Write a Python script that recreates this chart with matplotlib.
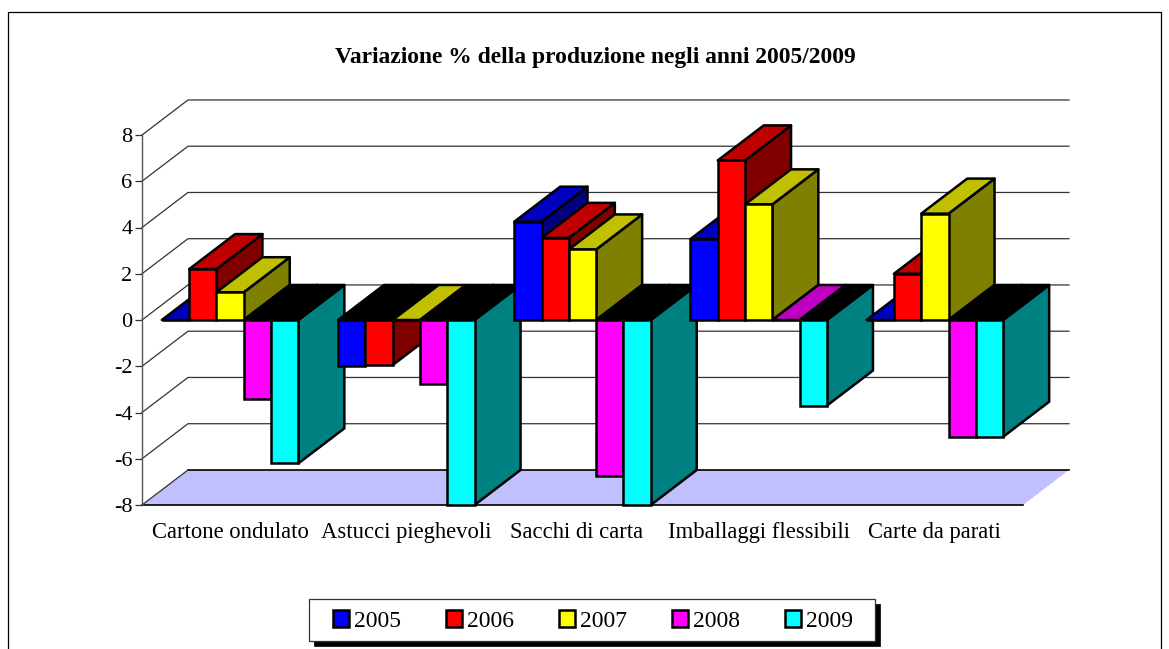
import matplotlib
matplotlib.use("Agg")
import matplotlib.pyplot as plt
import numpy as np
from matplotlib.lines import Line2D
from matplotlib.patches import Patch, Rectangle
from matplotlib.transforms import ScaledTranslation

plt.rcParams['font.family'] = ['Liberation Serif']

categories = ['Cartone ondulato', 'Astucci pieghevoli', 'Sacchi di carta',
              'Imballaggi flessibili', 'Carte da parati']
years = ['2005', '2006', '2007', '2008', '2009']
v2005 = [0.0, -2.0, 4.25, 3.5, 0.0]
v2006 = [2.2, -1.95, 3.55, 6.9, 2.0]
v2007 = [1.2, 0.0, 3.05, 5.0, 4.6]
v2008 = [-3.4, -2.75, -6.75, 0.0, -5.05]
v2009 = [-6.2, -8.0, -8.0, -3.7, -5.05]
series = [v2005, v2006, v2007, v2008, v2009]
yticks = [-8, -6, -4, -2, 0, 2, 4, 6, 8]
ytick_labels = ['-8', '-6', '-4', '-2', '0', '2', '4', '6', '8']

front_colors = ['#0000FF', '#FF0000', '#FFFF00', '#FF00FF', '#00FFFF']
top_colors = ['#0000C0', '#C00000', '#C0C000', '#C000C0', '#00C0C0']
side_colors = ['#000080', '#800000', '#808000', '#800080', '#008080']

W, H = 1169, 649
# depth of the fake 3D box, in data units
DX = 0.261
DY = 1.515
BAR_W = 0.155
LW = 1.8

fig = plt.figure(figsize=(W / 100, H / 100), dpi=100)
ax = fig.add_axes([142 / W, 1 - 505 / H, 881 / W, 370 / H])
ax.set_xlim(0, 5)
ax.set_ylim(-8, 8)
ax.patch.set_alpha(0)

# outer frame, bottom edge is cut off by the picture
fig.add_artist(Line2D([8 / W, 8 / W, 1161 / W, 1161 / W],
                      [0, 1 - 12 / H, 1 - 12 / H, 0], color='black', lw=0.9))

# floor
ax.fill([0, DX, 5 + DX, 5], [-8, -8 + DY, -8 + DY, -8], facecolor='#C0C0FF',
        edgecolor='none', clip_on=False, zorder=1)
ax.plot([0, 5], [-8, -8], color='black', lw=1.2, clip_on=False, zorder=2)
ax.plot([DX, 5 + DX], [-8 + DY, -8 + DY], color='black', lw=1.2, clip_on=False, zorder=2)

# back wall grid and left wall
for t in yticks:
    if t > -8:
        ax.plot([0, DX, 5 + DX], [t, t + DY, t + DY], color='#333333', lw=0.9,
                clip_on=False, zorder=1.5)
ax.plot([0, DX], [-8, -8 + DY], color='#333333', lw=0.9, clip_on=False, zorder=2)

z = 3
for c in range(len(categories)):
    start = c + 0.5 - 2.5 * BAR_W
    for s in range(len(series)):
        v = series[s][c]
        x0 = start + s * BAR_W
        x1 = x0 + BAR_W
        top_col = top_colors[s] if v >= 0 else 'black'
        ax.fill([x1, x1 + DX, x1 + DX, x1], [0, DY, v + DY, v], facecolor=side_colors[s],
                edgecolor='black', lw=LW, clip_on=False, zorder=z, joinstyle='round')
        top = max(v, 0)
        ax.fill([x0, x1, x1 + DX, x0 + DX], [top, top, top + DY, top + DY], facecolor=top_col,
                edgecolor='black', lw=LW, clip_on=False, zorder=z + 0.1, joinstyle='round')
        ax.bar(x0, v, width=BAR_W, align='edge', color=front_colors[s], edgecolor='black',
               lw=LW, clip_on=False, zorder=z + 0.2)
        z += 1

ax.set_xticks(np.arange(len(categories)) + 0.5)
ax.set_xticklabels(categories, fontsize=16.3, va='baseline')
ax.set_yticks(yticks)
ax.set_yticklabels(ytick_labels, fontsize=16)
ax.tick_params(axis='x', length=0, pad=24)
ax.tick_params(axis='y', length=5, width=0.9, color='#333333', pad=2)
for name in ['top', 'right', 'bottom']:
    ax.spines[name].set_visible(False)
ax.spines['left'].set_color('#555555')
ax.spines['left'].set_linewidth(1.0)

# the third label sits a little left of its group
lab = ax.get_xticklabels()[2]
lab.set_transform(lab.get_transform() + ScaledTranslation(-6 / 100, 0, fig.dpi_scale_trans))

fig.text(595.5 / W, 1 - 57 / H, 'Variazione % della produzione negli anni 2005/2009',
         ha='center', va='center', fontsize=16.9, fontweight='bold')

# legend box and its hard shadow
fig.add_artist(Rectangle((314 / W, 1 - 646 / H), 566 / W, 42 / H, transform=fig.transFigure,
                         facecolor='black', edgecolor='black', lw=0.5))
fig.add_artist(Rectangle((309 / W, 1 - 641 / H), 566 / W, 42 / H, transform=fig.transFigure,
                         facecolor='white', edgecolor='#333333', lw=0.9))

handles = [Patch(facecolor=front_colors[i], edgecolor='black', lw=LW, label=years[i])
           for i in range(len(years))]
leg = fig.legend(handles=handles, ncol=5, loc='center',
                 bbox_to_anchor=(593 / W, 1 - 621 / H), fontsize=17,
                 frameon=False, handlelength=0.68, handleheight=0.68, handletextpad=0.22,
                 columnspacing=1.9, borderpad=0, borderaxespad=0)

fig.savefig('out.png', dpi=100)
